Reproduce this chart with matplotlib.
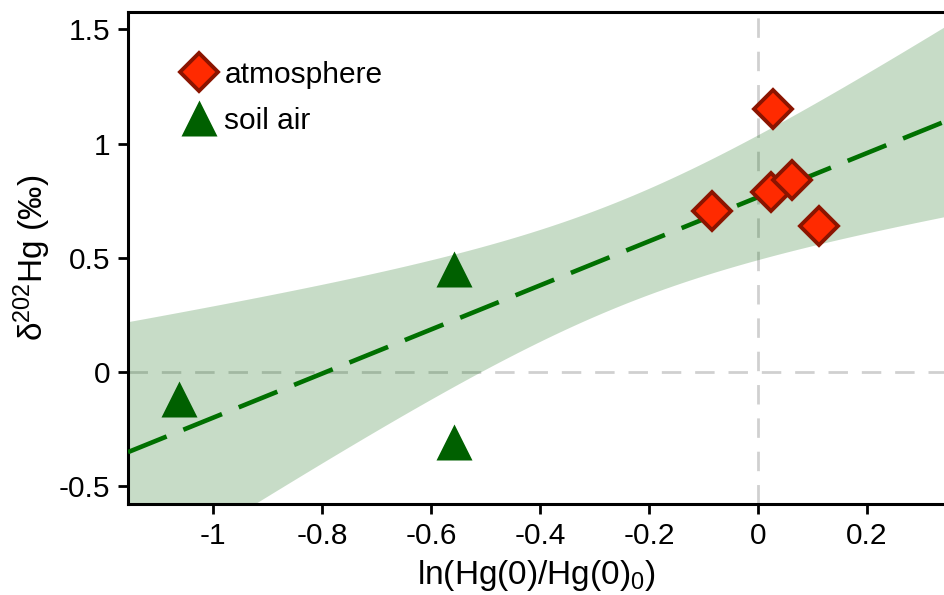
import numpy as np
import matplotlib
matplotlib.use('Agg')
import matplotlib.pyplot as plt

plt.rcParams['font.family'] = ['Liberation Sans', 'DejaVu Sans']
plt.rcParams['mathtext.fontset'] = 'custom'
plt.rcParams['mathtext.rm'] = 'Liberation Sans'
plt.rcParams['mathtext.default'] = 'regular'
plt.rcParams['lines.scale_dashes'] = False

# atmosphere samples
atm_x = [-0.085, 0.027, 0.024, 0.062, 0.1125]
atm_y = [0.706, 1.150, 0.789, 0.840, 0.640]
# soil air samples
soil_x = [-1.063, -0.558, -0.558]
soil_y = [-0.117, 0.453, -0.306]

x_ticks = [-1, -0.8, -0.6, -0.4, -0.2, 0, 0.2]
x_tick_labels = ['-1', '-0.8', '-0.6', '-0.4', '-0.2', '0', '0.2']
y_ticks = [-0.5, 0, 0.5, 1, 1.5]
y_tick_labels = ['-0.5', '0', '0.5', '1', '1.5']
xlim = (-1.156, 0.343)
ylim = (-0.578, 1.576)

# linear fit on all points + confidence band
all_x = np.array(atm_x + soil_x)
all_y = np.array(atm_y + soil_y)
n = len(all_x)
slope, icpt = np.polyfit(all_x, all_y, 1)
resid = all_y - (slope * all_x + icpt)
s = np.sqrt(np.sum(resid ** 2) / (n - 2))
sxx = np.sum((all_x - all_x.mean()) ** 2)
t_val = 2.17
xs = np.linspace(xlim[0], xlim[1], 200)
fit = slope * xs + icpt
half = t_val * s * np.sqrt(1 / n + (xs - all_x.mean()) ** 2 / sxx)

fig = plt.figure(figsize=(9.45, 5.95), dpi=100)
ax = fig.add_axes([128 / 945, 1 - 504 / 595, 1 - 128 / 945, (504 - 12) / 595])

ax.axhline(0, color='#d0d0d0', lw=2, dashes=(14, 10), zorder=1)
ax.axvline(0, color='#d0d0d0', lw=2, dashes=(14, 10), zorder=1)

ax.fill_between(xs, fit - half, fit + half, color='#006400', alpha=0.22, lw=0, zorder=2)
ax.plot(xs, fit, color='#007000', lw=3.3, dashes=(30, 13), zorder=3)

ax.plot(atm_x, atm_y, 'D', ms=19, mfc='#ff2a00', mec='#8b1400', mew=2.8,
        ls='none', label='atmosphere', zorder=5)
ax.plot(soil_x, soil_y, '^', ms=26, mfc='#006000', mec='none',
        ls='none', label='soil air', zorder=4)

ax.set_xlim(xlim)
ax.set_ylim(ylim)
ax.set_xticks(x_ticks)
ax.set_xticklabels(x_tick_labels)
ax.set_yticks(y_ticks)
ax.set_yticklabels(y_tick_labels)
ax.tick_params(direction='out', length=7, width=2, labelsize=21.5, pad=6)

for side in ['left', 'bottom', 'top']:
    ax.spines[side].set_linewidth(2.2)
ax.spines['right'].set_visible(False)

ax.set_xlabel('ln(Hg(0)/Hg(0)$_0$)', fontsize=24, labelpad=6)
ax.set_ylabel('δ$^{202}$Hg (‰)', fontsize=24, labelpad=4)

ax.legend(loc='upper left', bbox_to_anchor=(0.045, 0.925), frameon=False,
          fontsize=21.5, handletextpad=0.1, labelspacing=0.6, borderaxespad=0,
          handlelength=1.5)

fig.savefig('out.png', dpi=100)
